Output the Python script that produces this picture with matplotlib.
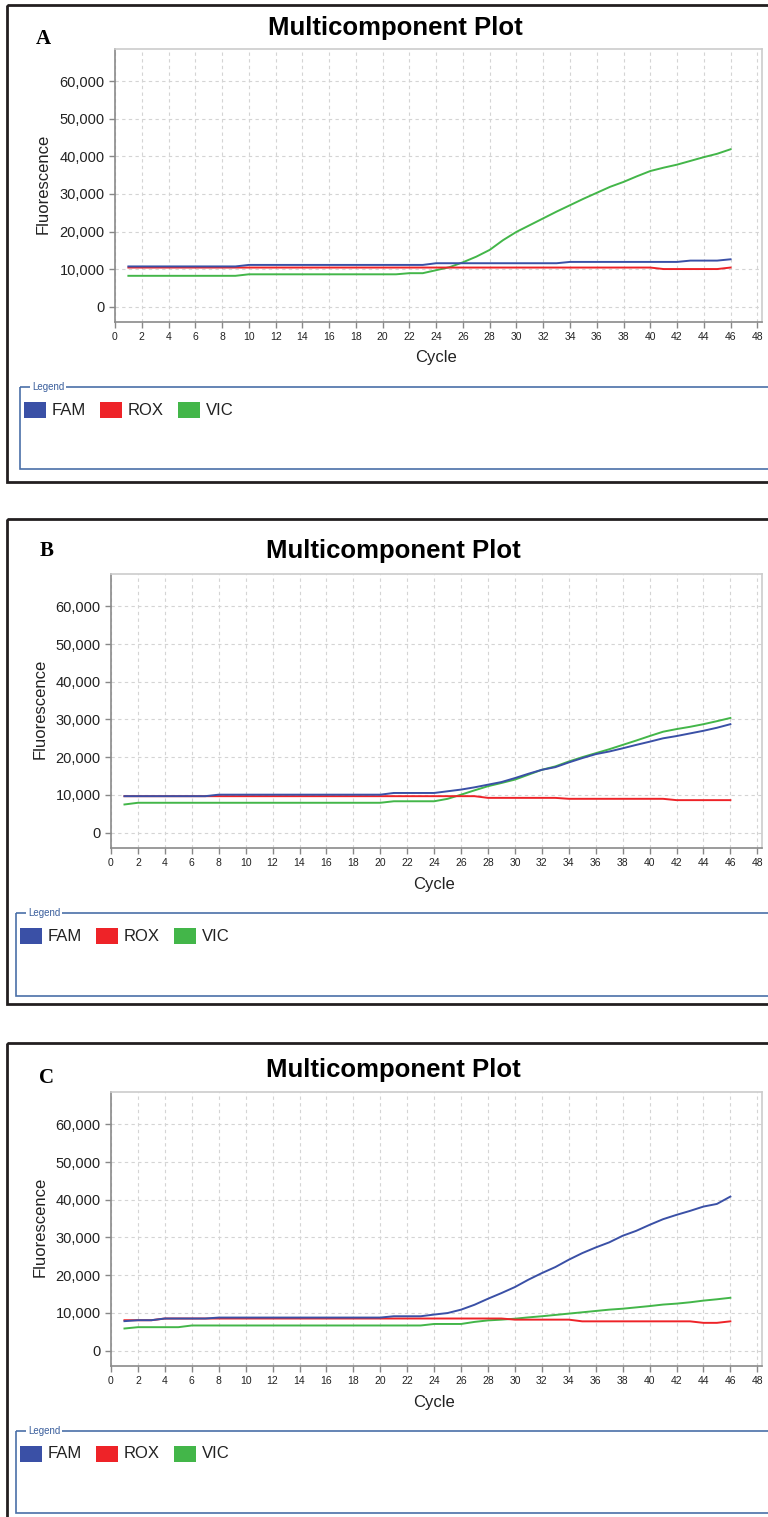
import matplotlib
matplotlib.use("Agg")
import matplotlib.pyplot as plt
from matplotlib.patches import Rectangle

plt.rcParams['font.family'] = ['Liberation Sans', 'DejaVu Sans']

# cycle numbers and multicomponent fluorescence for the three runs
cycles = list(range(1, 47))

fam_a = [10700]*9 + [11100]*14 + [11550]*10 + [11900]*9 + [12250]*3 + [12600]
rox_a = [10400]*40 + [10000]*5 + [10400]
vic_a = ([8200]*9 + [8600]*12 + [8900]*2 +
         [9700, 10500, 11800, 13300, 15100, 17700, 19900, 21700, 23500, 25300,
          27000, 28700, 30300, 31900, 33200, 34700, 36100, 37000, 37800, 38800,
          39800, 40700, 41900])

fam_b = ([9650]*7 + [10050]*13 + [10500]*4 +
         [10950, 11400, 12000, 12700, 13400, 14450, 15600, 16650, 17350, 18600,
          19750, 20800, 21500, 22350, 23250, 24100, 25000, 25600, 26300, 27000,
          27800, 28750])
rox_b = [9650]*27 + [9200]*6 + [8950]*8 + [8600]*5
vic_b = ([7450] + [7900]*19 + [8300]*4 +
         [8950, 10050, 11200, 12300, 13150, 14050, 15350, 16650, 17550, 18850,
          20000, 21050, 22100, 23250, 24400, 25600, 26750, 27450, 28050, 28750,
          29550, 30400])

fam_c = ([7800, 8050, 8050] + [8500]*4 + [8750]*13 + [9100]*3 +
         [9550, 9950, 10850, 12150, 13750, 15250, 16850, 18800, 20550, 22150,
          24100, 25850, 27350, 28700, 30450, 31750, 33350, 34850, 36000, 37050,
          38200, 38900, 40850])
rox_c = [8050]*3 + [8500]*26 + [8200]*5 + [7750]*9 + [7350]*2 + [7750]
vic_c = ([5850] + [6200]*4 + [6650]*18 + [7050]*3 +
         [7600, 8000, 8200, 8450, 8800, 9100, 9450, 9800, 10150, 10500,
          10850, 11100, 11450, 11800, 12200, 12450, 12800, 13250, 13600, 14000])

dyes = ['FAM', 'ROX', 'VIC']
colors = ['#3a50a6', '#ee2328', '#43b649']

W, H = 768, 1517
fig = plt.figure(figsize=(W/100, H/100), dpi=100)

# full-figure layer in pixel units for the frames, titles and legend boxes
bg = fig.add_axes([0, 0, 1, 1], zorder=-1)
bg.set_xlim(0, W)
bg.set_ylim(H, 0)
bg.axis('off')


def add_panel(letter, series, frame_top, frame_bottom, box, letter_xy,
              title_xy, xlabel_y, ylabel_x, legend_box, legend_x0):
    left, top, right, bottom = box
    # outer frame and panel letter
    bg.add_patch(Rectangle((7, frame_top), W + 20, frame_bottom - frame_top,
                           fill=False, edgecolor='#231f20', lw=2.0))
    bg.text(letter_xy[0], letter_xy[1], letter, family=['Liberation Serif'],
            fontweight='bold', fontsize=15, ha='center', va='center')
    bg.text(title_xy[0], title_xy[1], 'Multicomponent Plot',
            fontweight='bold', fontsize=18.5, ha='center', va='center')

    ax = fig.add_axes([left / W, 1 - bottom / H, (right - left) / W, (bottom - top) / H])
    # FAM drawn last so it sits on top where traces overlap
    for vals, c in reversed(list(zip(series, colors))):
        ax.plot(cycles, vals, color=c, lw=1.4)
    ax.set_xlim(0, 48.35)
    ax.set_ylim(-4100, 68600)
    ax.set_xticks(range(0, 49, 2))
    ax.set_yticks(range(0, 60001, 10000))
    ax.set_yticklabels(['{:,}'.format(v) for v in range(0, 60001, 10000)])
    ax.tick_params(axis='y', labelsize=10.5, colors='#888888', labelcolor='#222222',
                   length=4, width=1)
    ax.tick_params(axis='x', labelsize=7.5, colors='#888888', labelcolor='#222222',
                   length=4, width=1)
    ax.grid(True, color='#d4d4d4', ls=(0, (3, 3)), lw=0.8)
    for s in ['left', 'bottom']:
        ax.spines[s].set_color('#8a8a8a')
        ax.spines[s].set_linewidth(1.2)
    for s in ['top', 'right']:
        ax.spines[s].set_color('#cccccc')
        ax.spines[s].set_linewidth(1.2)

    bg.text(ylabel_x, (top + bottom) / 2 - 2, 'Fluorescence', rotation=90,
            fontsize=12, ha='center', va='center', color='#222222')
    bg.text((left + right) / 2 - 3, xlabel_y, 'Cycle', fontsize=12,
            ha='center', va='center', color='#222222')

    # legend frame with its caption on the top edge
    lx, ly0, ly1 = legend_box
    bg.add_patch(Rectangle((lx, ly0), W + 20, ly1 - ly0, fill=False,
                           edgecolor='#4a70a8', lw=1.2))
    bg.text(lx + 12, ly0, 'Legend', fontsize=7, color='#3a5e9c', ha='left',
            va='center', bbox=dict(facecolor='white', edgecolor='none', pad=1.5))
    yc = ly0 + 23
    for i, (name, c) in enumerate(zip(dyes, colors)):
        x0 = legend_x0 + [0, 76, 154][i]
        bg.add_patch(Rectangle((x0, yc - 8), 22, 16, facecolor=c, edgecolor='none'))
        bg.text(x0 + 28, yc, name, fontsize=12, ha='left', va='center',
                color='#222222')
    return ax


add_panel('A', [fam_a, rox_a, vic_a], 5, 482, (115, 49, 762, 322), (43, 39),
          (395, 28), 357, 43, (20, 387, 469), 24)
add_panel('B', [fam_b, rox_b, vic_b], 519, 1004, (111, 574, 762, 848), (47, 551),
          (393, 551), 884, 40, (16, 913, 996), 20)
add_panel('C', [fam_c, rox_c, vic_c], 1043, 1540, (111, 1092, 762, 1366), (47, 1078),
          (393, 1070), 1402, 40, (16, 1431, 1513), 20)

fig.savefig('out.png', dpi=100)
